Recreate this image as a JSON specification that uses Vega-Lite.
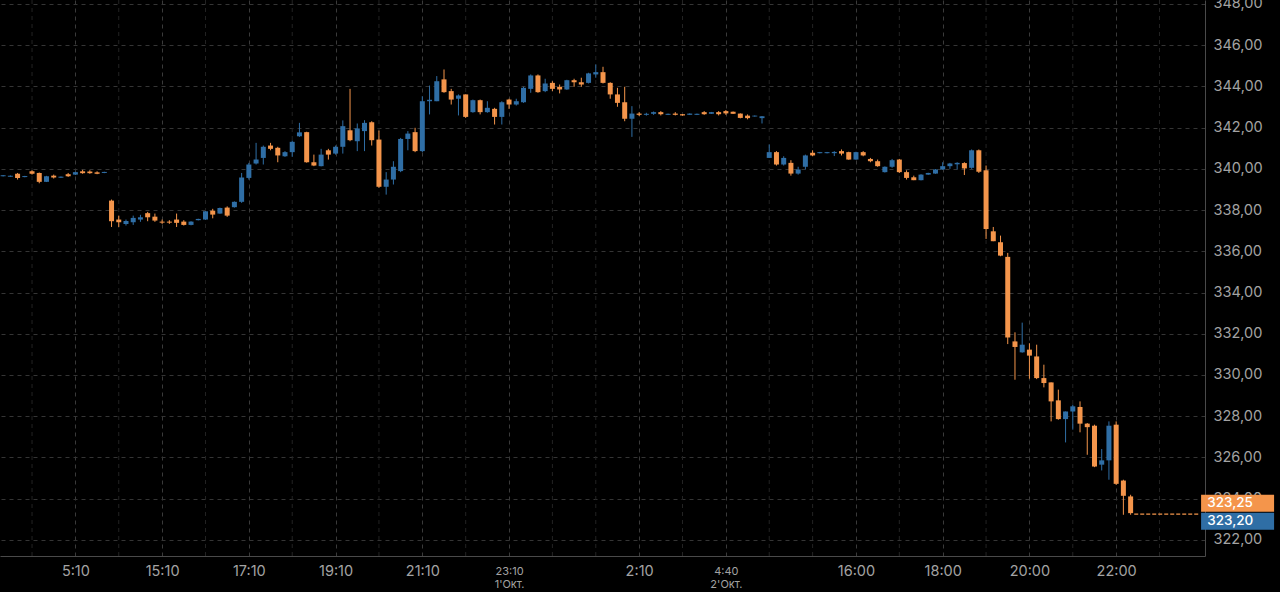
{
  "$schema": "https://vega.github.io/schema/vega-lite/v6.json",
  "width": 1205,
  "height": 556,
  "autosize": {"type": "none"},
  "padding": {"left": 0, "top": 0, "right": 75, "bottom": 36},
  "background": "#000000",
  "config": {"view": {"stroke": null}, "font": "Inter"},
  "datasets": {
    "candles": [
      {"s": -10, "o": 339.64, "h": 339.70, "l": 339.63, "c": 339.69},
      {"s": -9, "o": 339.62, "h": 339.68, "l": 339.61, "c": 339.67},
      {"s": -8, "o": 339.76, "h": 339.80, "l": 339.48, "c": 339.56},
      {"s": -7, "o": 339.60, "h": 339.66, "l": 339.59, "c": 339.65},
      {"s": -6, "o": 339.88, "h": 339.93, "l": 339.72, "c": 339.76},
      {"s": -5, "o": 339.80, "h": 339.82, "l": 339.30, "c": 339.37},
      {"s": -4, "o": 339.37, "h": 339.66, "l": 339.36, "c": 339.64},
      {"s": -3, "o": 339.67, "h": 339.72, "l": 339.53, "c": 339.58},
      {"s": -2, "o": 339.57, "h": 339.63, "l": 339.56, "c": 339.62},
      {"s": -1, "o": 339.74, "h": 339.80, "l": 339.61, "c": 339.64},
      {"s": 0, "o": 339.72, "h": 339.86, "l": 339.70, "c": 339.84},
      {"s": 1, "o": 339.88, "h": 339.95, "l": 339.76, "c": 339.79},
      {"s": 2, "o": 339.87, "h": 339.93, "l": 339.76, "c": 339.79},
      {"s": 3, "o": 339.83, "h": 339.88, "l": 339.74, "c": 339.76},
      {"s": 4, "o": 339.80, "h": 339.86, "l": 339.79, "c": 339.85},
      {"s": 5, "o": 338.46, "h": 338.51, "l": 337.18, "c": 337.46},
      {"s": 6, "o": 337.54, "h": 337.73, "l": 337.18, "c": 337.41},
      {"s": 7, "o": 337.33, "h": 337.54, "l": 337.25, "c": 337.47},
      {"s": 8, "o": 337.41, "h": 337.73, "l": 337.28, "c": 337.62},
      {"s": 9, "o": 337.54, "h": 337.77, "l": 337.43, "c": 337.65},
      {"s": 10, "o": 337.85, "h": 337.91, "l": 337.46, "c": 337.65},
      {"s": 11, "o": 337.68, "h": 337.83, "l": 337.43, "c": 337.49},
      {"s": 12, "o": 337.44, "h": 337.54, "l": 337.33, "c": 337.39},
      {"s": 13, "o": 337.44, "h": 337.51, "l": 337.33, "c": 337.39},
      {"s": 14, "o": 337.54, "h": 337.83, "l": 337.18, "c": 337.38},
      {"s": 15, "o": 337.44, "h": 337.51, "l": 337.25, "c": 337.28},
      {"s": 16, "o": 337.28, "h": 337.46, "l": 337.26, "c": 337.44},
      {"s": 17, "o": 337.51, "h": 337.58, "l": 337.50, "c": 337.57},
      {"s": 18, "o": 337.54, "h": 337.95, "l": 337.53, "c": 337.94},
      {"s": 19, "o": 337.97, "h": 338.06, "l": 337.60, "c": 337.78},
      {"s": 20, "o": 337.83, "h": 338.12, "l": 337.82, "c": 338.10},
      {"s": 21, "o": 338.12, "h": 338.18, "l": 337.67, "c": 337.73},
      {"s": 22, "o": 338.14, "h": 338.42, "l": 338.12, "c": 338.40},
      {"s": 23, "o": 338.40, "h": 339.80, "l": 338.35, "c": 339.58},
      {"s": 24, "o": 339.56, "h": 340.29, "l": 339.48, "c": 340.21},
      {"s": 25, "o": 340.26, "h": 341.26, "l": 340.21, "c": 340.45},
      {"s": 26, "o": 340.53, "h": 341.13, "l": 340.21, "c": 341.07},
      {"s": 27, "o": 341.13, "h": 341.26, "l": 340.90, "c": 340.97},
      {"s": 28, "o": 341.02, "h": 341.07, "l": 340.32, "c": 340.65},
      {"s": 29, "o": 340.61, "h": 340.86, "l": 340.58, "c": 340.81},
      {"s": 30, "o": 340.81, "h": 341.37, "l": 340.58, "c": 341.31},
      {"s": 31, "o": 341.58, "h": 342.23, "l": 341.55, "c": 341.77},
      {"s": 32, "o": 341.78, "h": 341.80, "l": 340.30, "c": 340.32},
      {"s": 33, "o": 340.32, "h": 340.69, "l": 340.13, "c": 340.16},
      {"s": 34, "o": 340.13, "h": 340.97, "l": 340.12, "c": 340.69},
      {"s": 35, "o": 340.90, "h": 340.97, "l": 340.45, "c": 340.69},
      {"s": 36, "o": 340.74, "h": 341.13, "l": 340.69, "c": 341.07},
      {"s": 37, "o": 341.07, "h": 342.35, "l": 340.74, "c": 342.07},
      {"s": 38, "o": 341.87, "h": 343.88, "l": 341.34, "c": 341.39},
      {"s": 39, "o": 341.34, "h": 342.20, "l": 340.86, "c": 341.96},
      {"s": 40, "o": 341.83, "h": 342.36, "l": 340.86, "c": 342.23},
      {"s": 41, "o": 342.26, "h": 342.31, "l": 341.13, "c": 341.39},
      {"s": 42, "o": 341.42, "h": 341.86, "l": 339.08, "c": 339.13},
      {"s": 43, "o": 339.13, "h": 339.84, "l": 338.75, "c": 339.48},
      {"s": 44, "o": 339.48, "h": 340.37, "l": 339.24, "c": 340.10},
      {"s": 45, "o": 339.89, "h": 341.50, "l": 339.84, "c": 341.45},
      {"s": 46, "o": 341.45, "h": 341.83, "l": 340.90, "c": 341.71},
      {"s": 47, "o": 341.78, "h": 341.99, "l": 340.81, "c": 340.86},
      {"s": 48, "o": 340.86, "h": 343.52, "l": 340.81, "c": 343.28},
      {"s": 49, "o": 343.28, "h": 344.04, "l": 342.64, "c": 343.35},
      {"s": 50, "o": 343.28, "h": 344.50, "l": 343.28, "c": 344.25},
      {"s": 51, "o": 344.34, "h": 344.82, "l": 343.69, "c": 343.72},
      {"s": 52, "o": 343.77, "h": 343.88, "l": 343.12, "c": 343.36},
      {"s": 53, "o": 343.40, "h": 343.61, "l": 342.59, "c": 343.56},
      {"s": 54, "o": 343.61, "h": 343.61, "l": 342.47, "c": 342.52},
      {"s": 55, "o": 342.75, "h": 343.36, "l": 342.72, "c": 343.33},
      {"s": 56, "o": 343.33, "h": 343.36, "l": 342.64, "c": 342.75},
      {"s": 57, "o": 342.75, "h": 343.28, "l": 342.72, "c": 342.96},
      {"s": 58, "o": 342.91, "h": 342.96, "l": 342.15, "c": 342.52},
      {"s": 59, "o": 342.52, "h": 343.28, "l": 342.15, "c": 343.23},
      {"s": 60, "o": 343.36, "h": 343.40, "l": 342.91, "c": 343.12},
      {"s": 61, "o": 343.12, "h": 343.40, "l": 343.07, "c": 343.28},
      {"s": 62, "o": 343.23, "h": 343.98, "l": 343.20, "c": 343.93},
      {"s": 63, "o": 343.88, "h": 344.58, "l": 343.69, "c": 344.53},
      {"s": 64, "o": 344.53, "h": 344.58, "l": 343.69, "c": 343.72},
      {"s": 65, "o": 343.77, "h": 344.37, "l": 343.72, "c": 344.14},
      {"s": 66, "o": 344.17, "h": 344.25, "l": 343.77, "c": 343.88},
      {"s": 67, "o": 343.98, "h": 344.09, "l": 343.66, "c": 343.85},
      {"s": 68, "o": 343.85, "h": 344.32, "l": 343.83, "c": 344.30},
      {"s": 69, "o": 344.30, "h": 344.37, "l": 343.98, "c": 344.20},
      {"s": 70, "o": 344.20, "h": 344.42, "l": 343.98, "c": 344.09},
      {"s": 71, "o": 344.17, "h": 344.66, "l": 344.14, "c": 344.63},
      {"s": 72, "o": 344.58, "h": 345.06, "l": 344.42, "c": 344.69},
      {"s": 73, "o": 344.69, "h": 344.95, "l": 344.14, "c": 344.17},
      {"s": 74, "o": 344.17, "h": 344.20, "l": 343.40, "c": 343.61},
      {"s": 75, "o": 343.61, "h": 343.93, "l": 343.01, "c": 343.20},
      {"s": 76, "o": 343.23, "h": 343.98, "l": 342.31, "c": 342.43},
      {"s": 77, "o": 342.43, "h": 343.04, "l": 341.55, "c": 342.68},
      {"s": 78, "o": 342.68, "h": 342.75, "l": 342.56, "c": 342.62},
      {"s": 79, "o": 342.62, "h": 342.72, "l": 342.58, "c": 342.67},
      {"s": 80, "o": 342.67, "h": 342.78, "l": 342.62, "c": 342.75},
      {"s": 81, "o": 342.75, "h": 342.80, "l": 342.59, "c": 342.65},
      {"s": 82, "o": 342.62, "h": 342.68, "l": 342.61, "c": 342.67},
      {"s": 83, "o": 342.68, "h": 342.75, "l": 342.59, "c": 342.62},
      {"s": 84, "o": 342.65, "h": 342.66, "l": 342.58, "c": 342.59},
      {"s": 85, "o": 342.62, "h": 342.69, "l": 342.61, "c": 342.68},
      {"s": 86, "o": 342.62, "h": 342.68, "l": 342.61, "c": 342.67},
      {"s": 87, "o": 342.75, "h": 342.80, "l": 342.62, "c": 342.65},
      {"s": 88, "o": 342.67, "h": 342.76, "l": 342.66, "c": 342.75},
      {"s": 89, "o": 342.75, "h": 342.80, "l": 342.59, "c": 342.65},
      {"s": 90, "o": 342.80, "h": 342.85, "l": 342.62, "c": 342.69},
      {"s": 91, "o": 342.77, "h": 342.78, "l": 342.66, "c": 342.67},
      {"s": 92, "o": 342.68, "h": 342.69, "l": 342.45, "c": 342.47},
      {"s": 93, "o": 342.58, "h": 342.64, "l": 342.40, "c": 342.46},
      {"s": 94, "o": 342.54, "h": 342.59, "l": 342.53, "c": 342.58},
      {"s": 95, "o": 342.46, "h": 342.56, "l": 342.20, "c": 342.55},
      {"s": 96, "o": 340.53, "h": 341.18, "l": 340.53, "c": 340.81},
      {"s": 97, "o": 340.81, "h": 340.86, "l": 340.16, "c": 340.21},
      {"s": 98, "o": 340.21, "h": 340.61, "l": 340.16, "c": 340.53},
      {"s": 99, "o": 340.29, "h": 340.42, "l": 339.67, "c": 339.77},
      {"s": 100, "o": 339.77, "h": 340.10, "l": 339.72, "c": 339.97},
      {"s": 101, "o": 340.10, "h": 340.69, "l": 339.97, "c": 340.65},
      {"s": 102, "o": 340.78, "h": 340.90, "l": 340.61, "c": 340.65},
      {"s": 103, "o": 340.76, "h": 340.82, "l": 340.75, "c": 340.81},
      {"s": 104, "o": 340.76, "h": 340.82, "l": 340.75, "c": 340.81},
      {"s": 105, "o": 340.76, "h": 340.86, "l": 340.62, "c": 340.82},
      {"s": 106, "o": 340.86, "h": 340.94, "l": 340.65, "c": 340.74},
      {"s": 107, "o": 340.81, "h": 340.83, "l": 340.44, "c": 340.45},
      {"s": 108, "o": 340.45, "h": 340.83, "l": 340.44, "c": 340.81},
      {"s": 109, "o": 340.81, "h": 340.86, "l": 340.61, "c": 340.65},
      {"s": 110, "o": 340.48, "h": 340.53, "l": 340.32, "c": 340.37},
      {"s": 111, "o": 340.37, "h": 340.45, "l": 340.10, "c": 340.13},
      {"s": 112, "o": 339.84, "h": 340.12, "l": 339.82, "c": 340.10},
      {"s": 113, "o": 340.10, "h": 340.48, "l": 340.05, "c": 340.42},
      {"s": 114, "o": 340.45, "h": 340.48, "l": 339.80, "c": 339.84},
      {"s": 115, "o": 339.84, "h": 339.93, "l": 339.48, "c": 339.56},
      {"s": 116, "o": 339.59, "h": 339.67, "l": 339.45, "c": 339.45},
      {"s": 117, "o": 339.45, "h": 339.74, "l": 339.44, "c": 339.72},
      {"s": 118, "o": 339.72, "h": 339.81, "l": 339.71, "c": 339.80},
      {"s": 119, "o": 339.77, "h": 339.99, "l": 339.76, "c": 339.97},
      {"s": 120, "o": 339.97, "h": 340.32, "l": 339.95, "c": 340.13},
      {"s": 121, "o": 340.13, "h": 340.29, "l": 340.00, "c": 340.26},
      {"s": 122, "o": 340.22, "h": 340.32, "l": 339.97, "c": 340.29},
      {"s": 123, "o": 340.28, "h": 340.32, "l": 339.70, "c": 340.02},
      {"s": 124, "o": 340.05, "h": 340.94, "l": 340.00, "c": 340.90},
      {"s": 125, "o": 340.90, "h": 340.94, "l": 339.80, "c": 339.86},
      {"s": 126, "o": 339.93, "h": 340.16, "l": 336.60, "c": 337.08},
      {"s": 127, "o": 336.97, "h": 337.18, "l": 336.49, "c": 336.49},
      {"s": 128, "o": 336.44, "h": 336.76, "l": 335.76, "c": 335.79},
      {"s": 129, "o": 335.73, "h": 335.92, "l": 331.50, "c": 331.82},
      {"s": 130, "o": 331.63, "h": 332.07, "l": 329.77, "c": 331.36},
      {"s": 131, "o": 331.10, "h": 332.54, "l": 331.08, "c": 331.47},
      {"s": 132, "o": 331.23, "h": 331.54, "l": 329.82, "c": 330.94},
      {"s": 133, "o": 330.90, "h": 331.47, "l": 329.80, "c": 329.85},
      {"s": 134, "o": 329.85, "h": 330.50, "l": 329.40, "c": 329.61},
      {"s": 135, "o": 329.64, "h": 329.64, "l": 327.75, "c": 328.72},
      {"s": 136, "o": 328.77, "h": 329.29, "l": 327.83, "c": 327.86},
      {"s": 137, "o": 327.86, "h": 328.23, "l": 326.73, "c": 328.23},
      {"s": 138, "o": 328.23, "h": 328.56, "l": 327.35, "c": 328.48},
      {"s": 139, "o": 328.45, "h": 328.72, "l": 327.22, "c": 327.64},
      {"s": 140, "o": 327.64, "h": 327.67, "l": 326.13, "c": 327.47},
      {"s": 141, "o": 327.54, "h": 327.59, "l": 325.53, "c": 325.56},
      {"s": 142, "o": 325.65, "h": 326.41, "l": 325.37, "c": 325.86},
      {"s": 143, "o": 325.86, "h": 327.75, "l": 324.92, "c": 327.54},
      {"s": 144, "o": 327.59, "h": 327.75, "l": 324.67, "c": 324.72},
      {"s": 145, "o": 324.88, "h": 324.92, "l": 323.22, "c": 324.14},
      {"s": 146, "o": 324.11, "h": 324.19, "l": 323.22, "c": 323.30}
    ],
    "minor": [
      {"s": -6}, {"s": 6}, {"s": 18}, {"s": 30}, {"s": 42}, {"s": 54}, {"s": 66}, {"s": 72},
      {"s": 84}, {"s": 96}, {"s": 102}, {"s": 114}, {"s": 126}, {"s": 138}, {"s": 150}
    ],
    "last": [{"price": 323.25}],
    "tags": [
      {"kind": "last", "label": "323,25", "price": 323.25},
      {"kind": "bid", "label": "323,20", "price": 323.20}
    ]
  },
  "layer": [
    {
      "data": {"name": "minor"},
      "mark": {"type": "rule", "color": "#232323", "strokeDash": [4, 4], "strokeWidth": 1},
      "encoding": {
        "x": {
          "field": "s",
          "type": "quantitative",
          "title": null,
          "scale": {"domain": [-9.74, 155.6], "nice": false, "zero": false},
          "axis": {
            "values": [0, 12, 24, 36, 48, 60, 78, 90, 108, 120, 132, 144],
            "labelExpr": "datum.value == 0 ? '5:10' : datum.value == 12 ? '15:10' : datum.value == 24 ? '17:10' : datum.value == 36 ? '19:10' : datum.value == 48 ? '21:10' : datum.value == 60 ? ['23:10', \"1'Окт.\"] : datum.value == 78 ? '2:10' : datum.value == 90 ? ['4:40', \"2'Окт.\"] : datum.value == 108 ? '16:00' : datum.value == 120 ? '18:00' : datum.value == 132 ? '20:00' : '22:00'",
            "grid": true,
            "gridColor": "#3a3a3a",
            "gridDash": [4, 4],
            "ticks": false,
            "domainColor": "#4a4a4a",
            "labelColor": "#a3a3a3",
            "labelFont": "Inter",
            "labelFontSize": {"condition": {"test": "datum.value == 60 || datum.value == 90", "value": 11}, "value": 14.5},
            "labelLineHeight": 13,
            "labelBaseline": "middle",
            "labelPadding": 15,
            "labelFlush": false,
            "labelOverlap": false
          }
        }
      }
    },
    {
      "data": {"name": "candles"},
      "mark": {"type": "rule", "strokeWidth": 1},
      "encoding": {
        "x": {"field": "s", "type": "quantitative", "title": null},
        "y": {
          "field": "l",
          "type": "quantitative",
          "title": null,
          "scale": {"domain": [321.22, 348.19], "nice": false, "zero": false},
          "axis": {
            "orient": "right",
            "values": [322, 324, 326, 328, 330, 332, 334, 336, 338, 340, 342, 344, 346, 348],
            "labelExpr": "replace(format(datum.value, '.2f'), '.', ',')",
            "grid": true,
            "gridColor": "#353535",
            "gridDash": [4, 4],
            "ticks": false,
            "domainColor": "#4a4a4a",
            "labelColor": "#a3a3a3",
            "labelFont": "Inter",
            "labelFontSize": 14.5,
            "labelPadding": 8,
            "labelBaseline": "middle",
            "labelFlush": false,
            "labelOverlap": false
          }
        },
        "y2": {"field": "h"},
        "color": {"condition": {"test": "datum.c < datum.o", "value": "#f4954b"}, "value": "#2f6ea5"}
      }
    },
    {
      "data": {"name": "candles"},
      "mark": {"type": "bar", "size": 5},
      "encoding": {
        "x": {"field": "s", "type": "quantitative", "title": null},
        "y": {"field": "o", "type": "quantitative", "title": null},
        "y2": {"field": "c"},
        "color": {"condition": {"test": "datum.c < datum.o", "value": "#f4954b"}, "value": "#2f6ea5"}
      }
    },
    {
      "data": {"name": "last"},
      "mark": {"type": "rule", "color": "#f4954b", "strokeDash": [4, 2], "strokeWidth": 1.2},
      "encoding": {
        "x": {"datum": 146.5, "type": "quantitative"},
        "x2": {"datum": 155.6},
        "y": {"field": "price", "type": "quantitative", "title": null}
      }
    },
    {
      "data": {"name": "tags"},
      "transform": [{"filter": "datum.kind == 'last'"}],
      "layer": [
        {
          "mark": {"type": "tick", "orient": "horizontal", "size": 73, "thickness": 17, "yOffset": -11, "opacity": 1, "color": "#f4954b"},
          "encoding": {
            "x": {"datum": 160.8, "type": "quantitative"},
            "y": {"field": "price", "type": "quantitative", "title": null}
          }
        },
        {
          "mark": {"type": "text", "align": "left", "baseline": "middle", "yOffset": -11, "color": "#ffffff", "fontSize": 13.5, "fontWeight": 500, "font": "Inter"},
          "encoding": {
            "x": {"datum": 156.6, "type": "quantitative"},
            "y": {"field": "price", "type": "quantitative", "title": null},
            "text": {"field": "label"}
          }
        }
      ]
    },
    {
      "data": {"name": "tags"},
      "transform": [{"filter": "datum.kind == 'bid'"}],
      "layer": [
        {
          "mark": {"type": "tick", "orient": "horizontal", "size": 73, "thickness": 17, "yOffset": 6, "opacity": 1, "color": "#2f6ea5"},
          "encoding": {
            "x": {"datum": 160.8, "type": "quantitative"},
            "y": {"field": "price", "type": "quantitative", "title": null}
          }
        },
        {
          "mark": {"type": "text", "align": "left", "baseline": "middle", "yOffset": 6, "color": "#ffffff", "fontSize": 13.5, "fontWeight": 500, "font": "Inter"},
          "encoding": {
            "x": {"datum": 156.6, "type": "quantitative"},
            "y": {"field": "price", "type": "quantitative", "title": null},
            "text": {"field": "label"}
          }
        }
      ]
    }
  ]
}
